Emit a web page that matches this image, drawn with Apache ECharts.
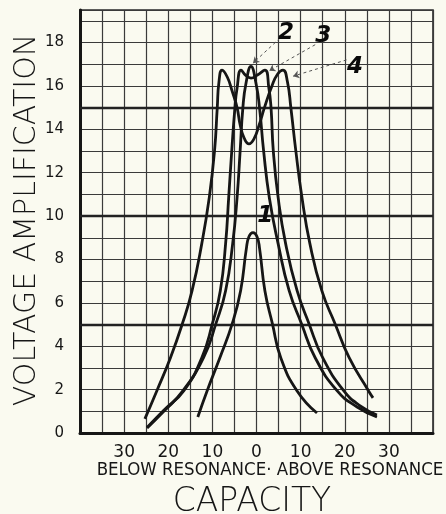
<!DOCTYPE html>
<html>
<head>
<meta charset="utf-8">
<script src="https://cdn.jsdelivr.net/npm/echarts@6/dist/echarts.min.js"></script>
<style>
    html, body { margin: 0; padding: 0; background: #fafaf0; }
    #chart { width: 446px; height: 514px; }
</style>
</head>
<body>
<div id="chart"></div>
<script>
// curve values: [capacity, voltage amplification]
const curve1 = [
    [-13.3, 0.74], [-11.2, 1.94], [-8.3, 3.47], [-5.5, 5.04], [-3.6, 6.56],
    [-2.3, 8.5], [-1.7, 9.06], [-0.8, 9.24], [0.1, 9.06], [0.7, 8.5],
    [1.9, 6.56], [3.6, 5.04], [5.5, 3.47], [9.2, 1.94], [13.7, 0.92]
];
const curve2 = [
    [-24.8, 0.23], [-21.0, 1.0], [-16.7, 1.94], [-12.0, 3.47], [-9.2, 5.04],
    [-7.0, 6.56], [-5.4, 8.73], [-4.4, 10.86], [-3.7, 13.03], [-3.1, 14.97],
    [-2.4, 16.1], [-1.25, 16.9], [-0.1, 16.1], [0.7, 14.97], [1.6, 13.03],
    [2.9, 10.86], [4.9, 8.73], [7.4, 6.56], [10.2, 5.04], [13.3, 3.47],
    [18.3, 1.94], [22.8, 1.2], [27.3, 0.74]
];
const curve3 = [
    [-24.8, 0.25], [-21.0, 1.05], [-16.5, 1.94], [-12.4, 3.47], [-10.0, 5.04],
    [-8.2, 6.56], [-7.0, 8.73], [-6.3, 10.86], [-5.6, 13.03], [-4.9, 14.97],
    [-4.4, 15.9], [-3.5, 16.73], [-2.5, 16.5], [-1.25, 16.36], [0.2, 16.5],
    [1.9, 16.73], [2.8, 15.9], [3.3, 14.97], [3.8, 13.03], [4.9, 10.86],
    [6.6, 8.73], [9.2, 6.56], [11.9, 5.04], [15.0, 3.47], [19.8, 1.94],
    [23.5, 1.25], [27.3, 0.83]
];
const curve4 = [
    [-25.3, 0.65], [-22.6, 1.94], [-19.5, 3.47], [-16.8, 5.04], [-14.6, 6.56],
    [-12.4, 8.73], [-10.7, 10.86], [-9.5, 13.03], [-8.9, 14.97], [-8.5, 16.2],
    [-7.8, 16.73], [-6.6, 16.4], [-5.5, 15.75], [-4.4, 15.0], [-3.7, 14.2],
    [-2.8, 13.6], [-1.7, 13.33], [-0.6, 13.55], [0.6, 14.2], [1.8, 15.0],
    [3.5, 16.0], [4.8, 16.55], [6.0, 16.73], [7.0, 16.2], [7.8, 14.97],
    [8.9, 13.03], [10.3, 10.86], [12.1, 8.73], [14.8, 6.56], [17.8, 5.04],
    [21.0, 3.47], [25.4, 1.94], [26.4, 1.62]
];

const curveNames = ["1", "2", "3", "4"];
const tagPoints = [[2.0, 10.0], [6.7, 18.45], [15.1, 18.3], [22.3, 16.85]];
const leaderFrom = [[5.3, 18.2], [13.3, 17.9], [20.4, 17.2]];
const leaderTo = [[-0.8, 17.05], [2.9, 16.7], [8.3, 16.45]];

const yLabels = [0, 2, 4, 6, 8, 10, 12, 14, 16, 18];
const xLabels = [-30, -20, -10, 0, 10, 20, 30];
const heavyRows = [5, 10, 15];

const ink = "#161616";
const chart = echarts.init(document.getElementById("chart"));

function curveSeries(name, data) {
    return {
        name: name,
        type: "line",
        data: data,
        smooth: 0.5,
        showSymbol: false,
        lineStyle: { color: ink, width: 2.8 },
        z: 5
    };
}

const series = [
    curveSeries("1", curve1),
    curveSeries("2", curve2),
    curveSeries("3", curve3),
    curveSeries("4", curve4),
    {
        name: "tags",
        type: "scatter",
        symbolSize: 0,
        itemStyle: { color: "transparent", opacity: 1 },
        data: tagPoints.map((p, i) => ({ name: curveNames[i], value: p })),
        label: {
            show: true,
            position: [0, 0],
            align: "center",
            verticalAlign: "middle",
            formatter: "{b}",
            color: "#0a0a0a",
            opacity: 1,
            textBorderWidth: 0,
            fontSize: 23,
            fontWeight: "bold",
            fontStyle: "italic",
            fontFamily: "DejaVu Sans"
        },
        markLine: {
            silent: true,
            symbol: ["none", "arrow"],
            symbolSize: 6,
            label: { show: false },
            lineStyle: { type: [3, 3], color: "#555", width: 1 },
            data: leaderFrom.map((p, i) => [{ coord: p }, { coord: leaderTo[i] }])
        },
        z: 6
    },
    {
        name: "grid",
        type: "line",
        data: [],
        markLine: {
            silent: true,
            symbol: ["none", "none"],
            label: { show: false },
            lineStyle: { type: "solid", color: "#222", width: 2.4 },
            data: heavyRows.map(v => ({ yAxis: v }))
        }
    }
];

const option = {
    backgroundColor: "#fafaf0",
    animation: false,
    grid: {
        left: 80, right: 13, top: 10, bottom: 81,
        show: true,
        borderColor: "#2a2a2a",
        borderWidth: 1.6
    },
    xAxis: {
        type: "value",
        min: -40,
        max: 40,
        interval: 5,
        axisLine: { show: true, onZero: false, lineStyle: { color: ink, width: 3 } },
        axisTick: { show: false },
        splitLine: { show: true, lineStyle: { color: "#3a3a3a", width: 1.2 } },
        axisLabel: {
            margin: 11,
            color: ink,
            fontSize: 17,
            fontFamily: "DejaVu Sans",
            formatter: v => xLabels.includes(v) ? String(Math.abs(v)) : ""
        }
    },
    yAxis: {
        type: "value",
        min: 0,
        max: 19.5,
        interval: 1,
        axisLine: { show: true, onZero: false, lineStyle: { color: ink, width: 3 } },
        axisTick: { show: false },
        splitLine: { show: true, lineStyle: { color: "#3a3a3a", width: 1.2 } },
        axisLabel: {
            margin: 16,
            color: ink,
            fontSize: 15,
            fontFamily: "DejaVu Sans",
            formatter: v => yLabels.includes(v) ? String(v) : ""
        }
    },
    graphic: [
        {
            type: "text",
            x: 27,
            y: 220,
            rotation: Math.PI / 2,
            style: {
                text: "VOLTAGE AMPLIFICATION",
                fill: ink,
                font: "lighter 30px 'DejaVu Sans'",
                textAlign: "center",
                textVerticalAlign: "middle"
            }
        },
        {
            type: "text",
            x: 270,
            y: 470,
            style: {
                text: "BELOW RESONANCE\u00b7 ABOVE RESONANCE",
                fill: ink,
                font: "18.5px 'DejaVu Sans Condensed', 'Liberation Sans Narrow', sans-serif",
                textAlign: "center",
                textVerticalAlign: "middle"
            }
        },
        {
            type: "text",
            x: 252,
            y: 502,
            style: {
                text: "CAPACITY",
                fill: ink,
                font: "lighter 33px 'DejaVu Sans'",
                textAlign: "center",
                textVerticalAlign: "middle"
            }
        }
    ],
    series: series
};

chart.setOption(option);
</script>
</body>
</html>
